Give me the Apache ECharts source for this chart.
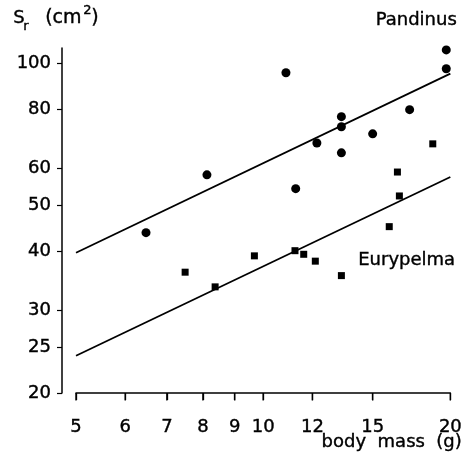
<!DOCTYPE html>
<html>
<head>
<meta charset="utf-8">
<script src="https://cdn.jsdelivr.net/npm/echarts@6/dist/echarts.min.js"></script>
<style>
  html, body { margin: 0; padding: 0; background: #fff; }
  #chart { width: 465px; height: 475px; }
</style>
</head>
<body>
<div id="chart"></div>
<script>
// tick labels
const massTicks = [5, 6, 7, 8, 9, 10, 12, 15, 20];
const areaTicks = [20, 25, 30, 40, 50, 60, 80, 100];

// Pandinus (circles)
const pandinusMass = [6.48, 8.12, 10.88, 11.28, 12.2, 13.36, 13.36, 13.36, 15.0, 17.2, 19.7, 19.7];
const pandinusArea = [43.8, 58.1, 95.7, 54.3, 67.9, 77.2, 73.5, 64.7, 71.0, 79.9, 107, 97.6];

// Eurypelma (squares)
const eurypelmaMass = [7.49, 8.37, 9.68, 11.25, 11.62, 12.13, 13.36, 15.95, 16.44, 16.56, 18.74];
const eurypelmaArea = [36.1, 33.6, 39.1, 40.1, 39.4, 38.1, 35.5, 45.1, 58.9, 52.4, 67.6];

// regression lines (end points)
const fitMass = [5, 20];
const pandinusFit = [39.7, 95.3];
const eurypelmaFit = [24.0, 57.5];

const lg = Math.log10;
const pairs = (xs, ys) => xs.map((x, i) => [lg(x), lg(ys[i])]);
const FONT = 'DejaVu Sans';
const Y_MIN = lg(20);
const TICK_LEN = 0.016; // x tick length below the axis, in log units

// slightly heavier text, like the printed original
const txt = (text, size, pos) => Object.assign({
    type: 'text',
    style: { text: text, font: size + 'px "DejaVu Sans"', fill: '#000', stroke: '#000', lineWidth: 0.4 }
}, pos);

// x ticks drawn as short line series hanging under the axis
const tickSeries = massTicks.map(m => ({
    type: 'line',
    silent: true,
    clip: false,
    symbol: 'none',
    data: [[lg(m), Y_MIN], [lg(m), Y_MIN - TICK_LEN]],
    lineStyle: { color: '#000', width: 1.4 }
}));

const chart = echarts.init(document.getElementById('chart'));

chart.setOption({
    animation: false,
    grid: { left: 76, right: 10, top: 48, bottom: 82 },
    xAxis: {
        type: 'value',
        min: lg(5),
        max: lg(20),
        splitLine: { show: false },
        axisLine: { show: true, onZero: false, lineStyle: { color: '#000', width: 1.5 } },
        axisTick: {
            show: true,
            customValues: massTicks.map(lg),
            length: 7,
            lineStyle: { color: '#000', width: 1.3 }
        },
        axisLabel: {
            customValues: massTicks.map(lg),
            formatter: v => Math.round(Math.pow(10, v)),
            color: '#000',
            fontFamily: FONT,
            fontSize: 18,
            textBorderColor: '#000',
            textBorderWidth: 0.4,
            margin: 25
        }
    },
    yAxis: {
        type: 'value',
        min: Y_MIN,
        max: lg(108),
        offset: 14,
        splitLine: { show: false },
        axisLine: { show: true, onZero: false, lineStyle: { color: '#000', width: 1.5 } },
        axisTick: {
            show: true,
            customValues: areaTicks.map(lg),
            length: 5,
            lineStyle: { color: '#000', width: 1.2 }
        },
        axisLabel: {
            customValues: areaTicks.map(lg),
            formatter: v => Math.round(Math.pow(10, v)),
            color: '#000',
            fontFamily: FONT,
            fontSize: 18,
            textBorderColor: '#000',
            textBorderWidth: 0.4,
            margin: 11
        }
    },
    series: tickSeries.concat([
        {
            name: 'Pandinus fit',
            type: 'line',
            data: pairs(fitMass, pandinusFit),
            symbol: 'none',
            lineStyle: { color: '#000', width: 1.8 }
        },
        {
            name: 'Eurypelma fit',
            type: 'line',
            data: pairs(fitMass, eurypelmaFit),
            symbol: 'none',
            lineStyle: { color: '#000', width: 1.8 }
        },
        {
            name: 'Pandinus',
            type: 'scatter',
            data: pairs(pandinusMass, pandinusArea),
            symbol: 'circle',
            symbolSize: 9,
            itemStyle: { color: '#000', opacity: 1 }
        },
        {
            name: 'Eurypelma',
            type: 'scatter',
            data: pairs(eurypelmaMass, eurypelmaArea),
            symbol: 'rect',
            symbolSize: 7,
            itemStyle: { color: '#000', opacity: 1 }
        }
    ]),
    graphic: [
        txt('S', 18, { left: 13, top: 9 }),
        txt('r', 13, { left: 23, top: 20 }),
        txt('(cm', 19, { left: 45, top: 8 }),
        txt('2', 13, { left: 83, top: 4 }),
        txt(')', 19, { left: 91, top: 8 }),
        txt('Pandinus', 18, { right: 8, top: 11 }),
        txt('Eurypelma', 18, { left: 358, top: 251 }),
        txt('body  mass  (g)', 18, { right: 3, top: 433 })
    ]
});
</script>
</body>
</html>
